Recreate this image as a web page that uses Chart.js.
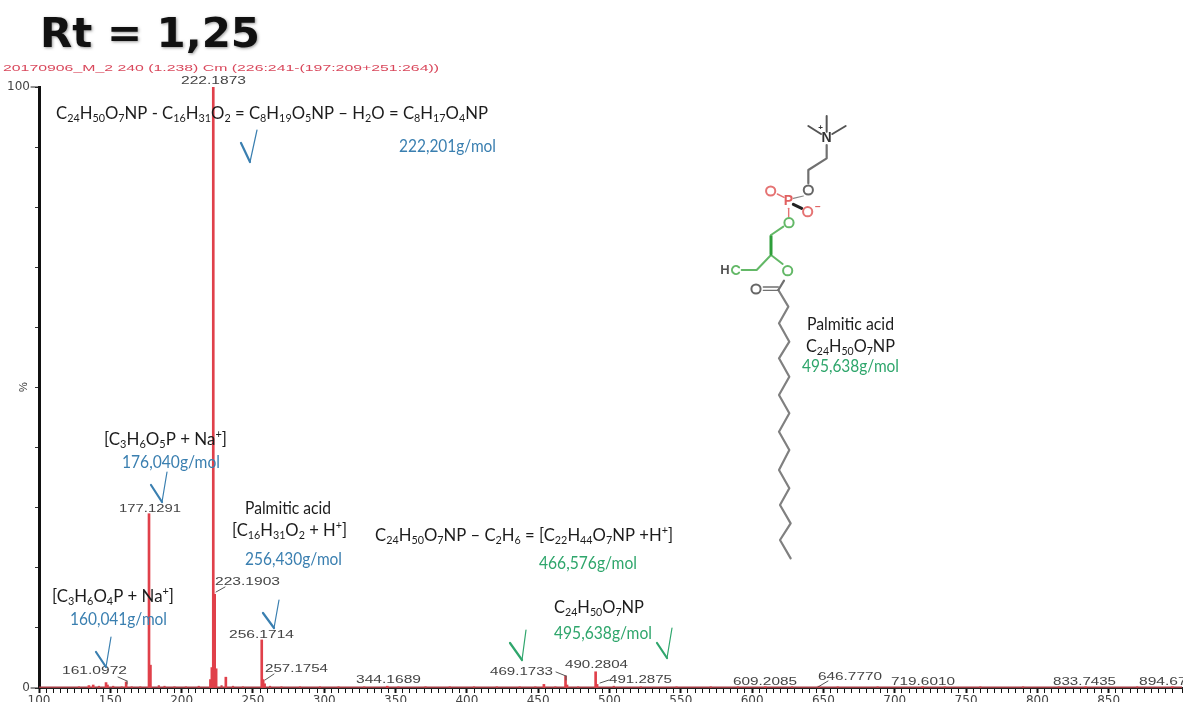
<!DOCTYPE html>
<html><head><meta charset="utf-8">
<style>html,body{margin:0;padding:0;background:#fff;overflow:hidden}canvas{display:block;filter:blur(0.35px)}</style>
<script src="https://cdn.jsdelivr.net/npm/chart.js@4"></script>
</head><body><canvas id="c" width="1183" height="702"></canvas>
<script>
// Spectrum values
const peakMz        = [222.19, 177.13, 223.19, 256.17, 178.13, 221.2, 224.2, 220.2, 231, 257.18, 258.2, 161.1, 147, 148, 138, 135, 469.17, 470.2, 490.28, 491.29, 454, 344.17, 609.21, 646.78, 719.6, 833.74, 894.67];
const peakIntensity = [100, 29, 15.6, 8, 3.8, 3.4, 3.2, 1.4, 1.8, 1.4, 0.7, 1, 0.9, 0.5, 0.5, 0.4, 2, 0.5, 2.7, 0.6, 0.6, 0.3, 0.2, 0.3, 0.2, 0.2, 0.2];
const noiseMz        = [128,142,152,158,165,171,184,188,195,203,212,228,236,243,262,270,283,297,310,328,352,371,388,405,421,437,448,462,478,503,522,547,571,590,628,660,688,735,760,790,815,870];
const noiseIntensity = [0.2,0.3,0.3,0.2,0.2,0.2,0.4,0.3,0.2,0.2,0.3,0.4,0.3,0.2,0.3,0.2,0.2,0.2,0.2,0.2,0.2,0.2,0.2,0.2,0.2,0.2,0.2,0.2,0.2,0.3,0.2,0.2,0.2,0.2,0.2,0.2,0.2,0.2,0.2,0.2,0.2,0.2];
const xTickStep = 5, xLabelStep = 50, yTickStep = 10;
const yLabels = [0, 100];

const blue='#3a7fb0', green='#2fa66c', black='#1c1c1c', gray='#4a4a4a';
// [text, left, right, centre y, colour]; _n = subscript, ^+ = superscript
const notes = [
 ['C_24H_50O_7NP - C_16H_31O_2 = C_8H_19O_5NP – H_2O = C_8H_17O_4NP',56,488,113,black],
 ['222,201g/mol',399,496,146,blue],
 ['[C_3H_6O_5P + Na^+]',104,227,439,black],
 ['176,040g/mol',122,220,462,blue],
 ['Palmitic acid',245,331,508,black],
 ['[C_16H_31O_2 + H^+]',232,347,530,black],
 ['256,430g/mol',245,342,559,blue],
 ['[C_3H_6O_4P + Na^+]',52,174,596,black],
 ['160,041g/mol',70,167,619,blue],
 ['C_24H_50O_7NP – C_2H_6 = [C_22H_44O_7NP +H^+]',375,673,535,black],
 ['466,576g/mol',539,637,563,green],
 ['C_24H_50O_7NP',554,644,607,black],
 ['495,638g/mol',554,652,633,green],
 ['Palmitic acid',807,894,324,black],
 ['C_24H_50O_7NP',806,895,346,black],
 ['495,638g/mol',802,899,366,green]
];
// peak tags: [text, left, right, centre y]
const tags = [
 ['222.1873',181,246,81],['177.1291',119,181,509],['223.1903',215,280,582],['256.1714',229,294,635],
 ['161.0972',62,127,671],['257.1754',265,328,669],['344.1689',356,421,680],['469.1733',490,553,672],
 ['490.2804',565,628,665],['491.2875',609,672,680],['609.2085',733,797,682],['646.7770',818,882,677],
 ['719.6010',891,955,682],['833.7435',1053,1116,682],['894.6700',1139,1204,682]
];
const leaders = [[216,592,225,587],[118,677,127,681],[127,681,127,684],[265,680,274,674],[556,672,566,676],[566,676,566,680],[600,683,609,680],[818,687,828,681]];
const checks = [[241,143,250,162,257,130,blue],[151,485,162,502,167,472,blue],[96,652,106,667,111,637,blue],[263,613,274,628,279,600,blue],[510,643,522,660,526,630,green],[657,643,667,658,672,628,green]];

// structure outline, in 3x units offset from (700,110)
const mol = [
 ['#808080',2.2,[[235,540],[265,590],[237,640],[268,695],[237,745],[268,800],[237,855],[268,910],[237,965],[268,1020],[237,1080],[268,1135],[240,1185],[272,1240],[240,1290],[272,1345]]],
 ['#707070',2.2,[[235,540],[252,512]]],['#707070',1.4,[[190,531],[235,531]]],['#707070',1.4,[[190,541],[235,541]]],
 ['#63b867',2,[[248,462],[213,435],[170,480],[125,480]]],
 ['#2e9e3a',3,[[213,432],[213,378]]],
 ['#63b867',2,[[213,375],[250,350]]],
 ['#e57373',1.4,[[266,320],[266,295]]],['#e57373',1.4,[[232,252],[252,262]]],['#222',3,[[280,283],[305,295]]],
 ['#888',1.2,[[310,258],[280,265]]],
 ['#707070',2.2,[[325,220],[325,180],[380,145],[380,105]]],
 ['#555',2,[[380,65],[380,18]]],['#555',2,[[363,72],[325,48]]],['#555',2,[[397,72],[437,48]]]
];
const molRings = [[168,537,'#666'],[263,482,'#63b867'],[267,338,'#63b867'],[212,243,'#e57373'],[323,305,'#e57373'],[325,240,'#666']];
const molText = [['N',380,84,'#333',14],['P',265,272,'#e06060',14],['H',75,480,'#555',13],['−',354,293,'#e06060',10],['+',362,52,'#333',8]];

function segs(t){const o=[];let i=0,b='';while(i<t.length){const c=t[i];
  if(c==='_'){if(b)o.push([b,0]);b='';let d='';i++;while(/\d/.test(t[i]))d+=t[i++];o.push([d,1]);continue}
  if(c==='^'){if(b)o.push([b,0]);b='';o.push([t[i+1],2]);i+=2;continue}
  b+=c;i++}if(b)o.push([b,0]);return o}
function rich(ctx,t,x0,x1,y,col){
  const S=[];let w=0;for(const [s,k] of segs(t)){ctx.font=(k?'11px':'17px')+' Lato';const m=ctx.measureText(s).width;S.push([s,k,m]);w+=m}
  ctx.save();ctx.translate(x0,y);ctx.scale((x1-x0)/w,1);ctx.fillStyle=col;ctx.textBaseline='alphabetic';ctx.textAlign='left';
  let x=0;for(const [s,k,m] of S){ctx.font=(k?'11px':'17px')+' Lato';ctx.fillText(s,x,k===1?9:k===2?-1:6);x+=m}ctx.restore();
}
function fit(ctx,t,x0,x1,y,font,col){ctx.save();ctx.font=font;const w=ctx.measureText(t).width;ctx.translate(x0,y);ctx.scale((x1-x0)/w,1);
  ctx.fillStyle=col;ctx.textBaseline='middle';ctx.textAlign='left';ctx.fillText(t,0,0);ctx.restore()}
function poly(ctx,p,col,lw){ctx.strokeStyle=col;ctx.lineWidth=lw;ctx.beginPath();p.forEach((q,i)=>i?ctx.lineTo(q[0],q[1]):ctx.moveTo(q[0],q[1]));ctx.stroke()}

const overlay={id:'overlay',afterDatasetsDraw(ch){
  const ctx=ch.ctx,xs=ch.scales.x,ys=ch.scales.y;ctx.save();ctx.lineCap='round';ctx.lineJoin='round';
  // long end ticks on the intensity axis
  yLabels.forEach(v=>poly(ctx,[[31,ys.getPixelForValue(v)],[39,ys.getPixelForValue(v)]],'#222',1));
  // title + subtitle
  ctx.save();ctx.shadowColor='rgba(70,70,70,.55)';ctx.shadowBlur=3;ctx.shadowOffsetX=1;ctx.shadowOffsetY=1;
  ctx.font='bold 40px "DejaVu Sans"';const tw=ctx.measureText('Rt = 1,25').width;ctx.translate(40,47);ctx.scale(220/tw,1);
  ctx.fillStyle='#111';ctx.textBaseline='alphabetic';ctx.fillText('Rt = 1,25',0,0);ctx.restore();
  fit(ctx,'20170906_M_2 240 (1.238) Cm (226:241-(197:209+251:264))',3,439,69,'9px "Liberation Sans"','#d9485c');
  // % axis label
  ctx.save();ctx.translate(24,387);ctx.rotate(-Math.PI/2);ctx.font='11px "Liberation Sans"';ctx.fillStyle='#333';ctx.textAlign='center';ctx.textBaseline='middle';ctx.fillText('%',0,0);ctx.restore();
  // peak tags
  tags.forEach(t=>fit(ctx,t[0],t[1],t[2],t[3],'10.5px "Liberation Sans"','#444'));
  leaders.forEach(l=>poly(ctx,[[l[0],l[1]],[l[2],l[3]]],'#555',1));
  // notes
  notes.forEach(n=>rich(ctx,n[0],n[1],n[2],n[3],n[4]));
  // check marks
  checks.forEach(c=>{poly(ctx,[[c[0],c[1]],[c[2],c[3]]],c[6],2.2);poly(ctx,[[c[2],c[3]],[c[4],c[5]]],c[6],1.2)});
  // structure
  const M=([a,b])=>[700+a/3,110+b/3];
  mol.forEach(([col,lw,p])=>poly(ctx,p.map(M),col,lw));
  molRings.forEach(([a,b,col])=>{const q=M([a,b]);ctx.strokeStyle=col;ctx.lineWidth=2;ctx.beginPath();ctx.arc(q[0],q[1],4.6,0,7);ctx.stroke()});
  {const q=M([108,480]);ctx.strokeStyle='#63b867';ctx.lineWidth=2;ctx.beginPath();ctx.arc(q[0],q[1],4,0.7,5.6);ctx.stroke()}
  molText.forEach(([t,a,b,col,s])=>{const q=M([a,b]);ctx.font='bold '+s+'px "Liberation Sans"';ctx.fillStyle=col;ctx.textAlign='center';ctx.textBaseline='middle';ctx.fillText(t,q[0],q[1])});
  ctx.restore();
}};

new Chart(document.getElementById('c'),{
  type:'bar',
  data:{datasets:[
    {type:'line',data:[{x:100,y:0.12},{x:902,y:0.12}],borderColor:'#a33a42',borderWidth:1.4,pointRadius:0,order:2},
    {label:'peaks',data:peakMz.map((x,i)=>({x,y:peakIntensity[i]})),backgroundColor:'#e0404a',barThickness:2,grouped:false,order:1},
    {label:'noise',data:noiseMz.map((x,i)=>({x,y:noiseIntensity[i]})),backgroundColor:'#c8434c',barThickness:1.5,grouped:false,order:1}
  ]},
  plugins:[overlay],
  options:{
    responsive:false,animation:false,
    layout:{padding:{top:87,right:0,bottom:0,left:0}},
    plugins:{legend:{display:false},tooltip:{enabled:false},title:{display:false}},
    scales:{
      x:{type:'linear',offset:false,min:100,max:901.4,
        border:{color:'#222',width:2},
        grid:{offset:false,drawOnChartArea:false,drawTicks:true,tickLength:5,tickColor:'#111',tickWidth:c=>c.tick&&c.tick.value%xLabelStep===0?2:1},
        ticks:{stepSize:xTickStep,autoSkip:false,maxRotation:0,minRotation:0,padding:1,color:'#444',font:{family:'"DejaVu Sans"',size:12},
          callback:v=>v%xLabelStep===0?String(v):''},
        afterFit:s=>{s.height=14}},
      y:{min:0,max:100,
        border:{color:'#111',width:3},
        grid:{drawOnChartArea:false,tickLength:4,tickColor:'#333',tickWidth:1},
        ticks:{stepSize:yTickStep,autoSkip:false,padding:5,color:'#444',font:{family:'"DejaVu Sans"',size:12},
          callback:v=>yLabels.includes(v)?String(v):''},
        afterFit:s=>{s.width=39}}
    }
  }
});
</script></body></html>
